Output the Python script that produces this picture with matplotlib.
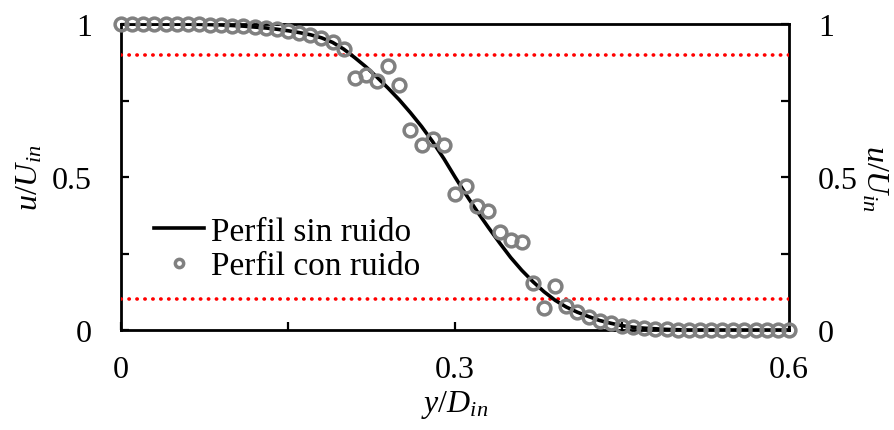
import matplotlib
matplotlib.use("Agg")
import matplotlib.pyplot as plt

plt.rcParams['font.family'] = ['Liberation Serif', 'DejaVu Serif']
plt.rcParams['mathtext.fontset'] = 'custom'
plt.rcParams['mathtext.rm'] = 'Liberation Serif'
plt.rcParams['mathtext.it'] = 'Liberation Serif:italic'

# y/D_in positions (0 to 0.6, step 0.01)
y_pos = [round(i * 0.01, 2) for i in range(61)]

# Noise-free profile
u_clean = [1.0, 1.0, 1.0, 1.0, 1.0, 1.0, 1.0, 0.999, 0.998, 0.997,
           0.995, 0.993, 0.99, 0.987, 0.983, 0.978, 0.972, 0.965, 0.955, 0.94,
           0.918, 0.89, 0.86, 0.826, 0.79, 0.752, 0.71, 0.665, 0.615, 0.56,
           0.50, 0.442, 0.387, 0.335, 0.285, 0.237, 0.195, 0.158, 0.125, 0.097,
           0.075, 0.058, 0.044, 0.031, 0.022, 0.014, 0.009, 0.006, 0.004, 0.002,
           0.001, 0.0, 0.0, 0.0, 0.0, 0.0, 0.0, 0.0, 0.0, 0.0,
           0.0]

# Noisy profile
u_noisy = [1.0, 1.0, 1.0, 1.0, 1.0, 1.0, 1.0, 0.999, 0.998, 0.997,
           0.995, 0.993, 0.99, 0.987, 0.983, 0.978, 0.972, 0.965, 0.955, 0.94,
           0.918, 0.823, 0.833, 0.813, 0.862, 0.80, 0.654, 0.605, 0.624, 0.606,
           0.443, 0.471, 0.405, 0.39, 0.321, 0.295, 0.287, 0.154, 0.073, 0.145,
           0.078, 0.058, 0.044, 0.031, 0.022, 0.014, 0.009, 0.006, 0.004, 0.002,
           0.001, 0.0, 0.0, 0.0, 0.0, 0.0, 0.0, 0.0, 0.0, 0.0,
           0.0]

thresholds = [0.9, 0.1]
x_ticks = [0, 0.15, 0.3, 0.45, 0.6]
x_tick_labels = ['0', '', '0.3', '', '0.6']
y_ticks = [0, 0.25, 0.5, 0.75, 1]
y_tick_labels = ['0', '', '0.5', '', '1']

fig = plt.figure(figsize=(8.94, 4.31), dpi=100)
ax = fig.add_axes([121/894, 1 - 331/431, (789-121)/894, (331-25)/431])

fs = 23
for t in thresholds:
    ax.plot([0, 0.6], [t, t], color='red', linestyle=(0, (0.1, 2.1)),
            linewidth=2.6, dash_capstyle='round', zorder=1)
ax.plot(y_pos, u_clean, color='black', linewidth=2.6, zorder=2,
        label='Perfil sin ruido')
ax.plot(y_pos, u_noisy, linestyle='none', marker='o', markersize=9.2,
        markerfacecolor='none', markeredgecolor='#808080',
        markeredgewidth=2.5, zorder=3, label='Perfil con ruido', clip_on=False)

ax.set_xlim(0, 0.6)
ax.set_ylim(0, 1)
ax.set_xticks(x_ticks)
ax.set_xticklabels(x_tick_labels)
ax.set_yticks(y_ticks)
ax.set_yticklabels(y_tick_labels)
for s in ax.spines.values():
    s.set_linewidth(2.0)
    s.set_zorder(0.5)
ax.tick_params(axis='x', direction='in', length=6, width=1.6, labelsize=fs, pad=18)
ax.tick_params(axis='y', direction='in', length=6, width=1.6, labelsize=fs, pad=21,
               right=True, labelright=True)

ax.set_xlabel(r'$y/D_{in}$', fontsize=fs, va='center')
ax.xaxis.set_label_coords(0.5, (331 - 405) / 306)
ax.set_ylabel(r'$u/U_{in}$', fontsize=fs, va='center')
ax.yaxis.set_label_coords((30 - 121) / 668, 0.5)
fig.text(874 / 894, 1 - 178 / 431, r'$u/U_{in}$', fontsize=fs, rotation=-90,
         ha='center', va='center')

leg = ax.legend(loc='upper left', bbox_to_anchor=(0.03, 0.415), frameon=False,
                fontsize=fs + 1, handlelength=1.5, handletextpad=0.2,
                labelspacing=0.12, borderaxespad=0, markerscale=0.65)

fig.savefig('out.png', dpi=100)
